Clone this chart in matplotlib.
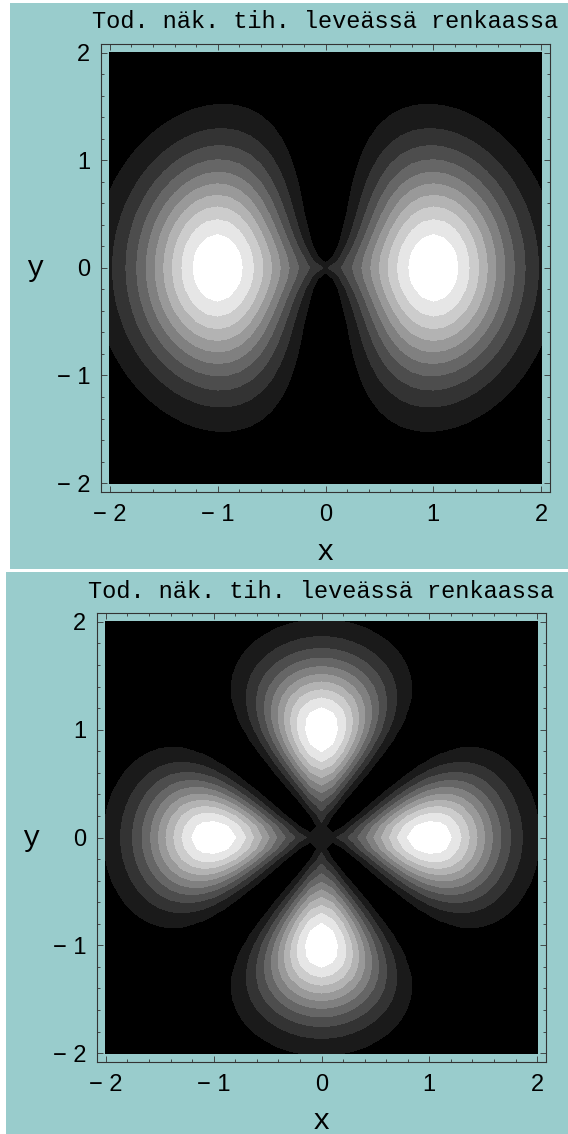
import numpy as np
import matplotlib
matplotlib.use('Agg')
import matplotlib.pyplot as plt
from matplotlib.patches import Rectangle
from matplotlib.ticker import FixedLocator, MultipleLocator

# ---- texts ----
title = "Tod. näk. tih. leveässä renkaassa"
x_label = "x"
y_label = "y"
tick_values = [-2, -1, 0, 1, 2]
tick_labels = ["\u2212 2", "\u2212 1", "0", "1", "2"]
minor_step = 0.2
plot_range = (-2.0, 2.0)

# ---- density model of each panel ----
# peak radius of the ring, radial fall-off rate and shape, angular order cos^2(m*theta)
ring_radius = [1.0, 1.0]
radial_rate = [1.8, 2.3]
radial_power = [2.0, 2.0]
angular_order = [1, 2]
grid_points = 41
n_contours = 10

W, H = 568, 1134
teal = '#99cccc'
frame_col = '#333333'

fig = plt.figure(figsize=(W / 100, H / 100), dpi=100, facecolor='white')

panels = [(10, 3, 568, 569.3), (6, 572.3, 568, 1134)]
frames = [(101.3, 44, 549.7, 491.7), (97.3, 613.3, 545.7, 1061.7)]

for i in range(2):
    x0, y0, x1, y1 = panels[i]
    fig.patches.append(Rectangle((x0 / W, 1 - y1 / H), (x1 - x0) / W, (y1 - y0) / H,
                                 transform=fig.transFigure, facecolor=teal,
                                 edgecolor='none', zorder=-10))
    fx0, fy0, fx1, fy1 = frames[i]
    ax = fig.add_axes([fx0 / W, 1 - fy1 / H, (fx1 - fx0) / W, (fy1 - fy0) / H])
    ax.set_zorder(1)
    ax.set_facecolor(teal)

    xs = np.linspace(plot_range[0], plot_range[1], grid_points)
    X, Y = np.meshgrid(xs, xs)
    R = np.hypot(X, Y)
    T = np.arctan2(Y, X)
    Z = (np.exp(-radial_rate[i] * np.abs(R - ring_radius[i]) ** radial_power[i])
         * np.cos(angular_order[i] * T) ** 2)
    zmin, zmax = Z.min(), Z.max()
    levels = zmin + (zmax - zmin) * np.arange(n_contours + 2) / (n_contours + 1)
    levels[0] -= 1e-9
    levels[-1] += 1e-9
    colors = [str(k / 10) for k in range(n_contours + 1)]
    ax.contourf(X, Y, Z, levels=levels, colors=colors, antialiased=False)

    ax.set_xlim(-2.08, 2.08)
    ax.set_ylim(-2.08, 2.08)
    for s in ax.spines.values():
        s.set_color(frame_col)
        s.set_linewidth(0.8)
    for axis in (ax.xaxis, ax.yaxis):
        axis.set_major_locator(FixedLocator(tick_values))
        axis.set_minor_locator(MultipleLocator(minor_step))
    ax.set_xticklabels(tick_labels)
    ax.set_yticklabels(tick_labels)
    ax.tick_params(which='both', direction='in', top=True, right=True, color=frame_col, width=0.6)
    ax.tick_params(which='major', length=4)
    ax.tick_params(which='minor', length=2.5)
    ax.tick_params(axis='x', which='major', pad=9, labelsize=17)
    ax.tick_params(axis='y', which='major', pad=8, labelsize=17)
    for lab in ax.get_xticklabels() + ax.get_yticklabels():
        lab.set_fontfamily('Liberation Sans')

    tb = [1.035, 1.0335][i]
    ax.text(0.5, tb, title, transform=ax.transAxes, ha='center', va='baseline',
            fontfamily='Liberation Mono', fontsize=17, color='black')
    xb = [-0.1526, -0.1508][i]
    ax.text(0.5, xb, x_label, transform=ax.transAxes, ha='center', va='baseline',
            fontfamily='Liberation Mono', fontsize=21, color='black')
    ax.text(-0.148, 0.481, y_label, transform=ax.transAxes, ha='center', va='baseline',
            fontfamily='Liberation Mono', fontsize=21, color='black')

fig.savefig('out.png', dpi=100, facecolor='white')
